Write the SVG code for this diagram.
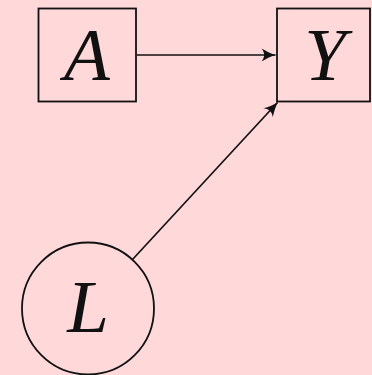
<svg xmlns="http://www.w3.org/2000/svg" width="372" height="375" viewBox="0 0 372 375">
  <style>
    .node { fill: none; stroke: #111; stroke-width: 1.8; }
    .label { font-family: "Liberation Serif", "DejaVu Serif", serif; font-style: italic; font-size: 75px; fill: #111; text-anchor: middle; }
    .edge { fill: none; stroke: #111; stroke-width: 1.7; marker-end: url(#tip); }
  </style>
  <defs>
    <!-- concave-backed filled arrowhead -->
    <marker id="tip" viewBox="-15 -8 16 16" refX="0" refY="0" markerWidth="16" markerHeight="16" markerUnits="userSpaceOnUse" orient="auto">
      <path d="M0.5,0 C-4,-1.2 -9,-3.5 -14,-6.5 C-10.5,-2.5 -10.5,2.5 -14,6.5 C-9,3.5 -4,1.2 0.5,0 Z" fill="#111"/>
    </marker>
  </defs>
  <rect width="372" height="375" fill="#ffd8da"/>
  <g id="edges">
    <line class="edge" x1="137" y1="55" x2="275.5" y2="55"/>
    <line class="edge" x1="132.5" y1="259.5" x2="277.5" y2="102.5"/>
  </g>
  <g id="node-A">
    <rect class="node" x="38.5" y="8.5" width="97.5" height="93"/>
    <text class="label" x="87" y="80">A</text>
  </g>
  <g id="node-Y">
    <rect class="node" x="277" y="8.5" width="93" height="93"/>
    <text class="label" x="325" y="80">Y</text>
  </g>
  <g id="node-L">
    <circle class="node" cx="88" cy="308.5" r="66"/>
    <text class="label" x="88" y="332">L</text>
  </g>
</svg>
